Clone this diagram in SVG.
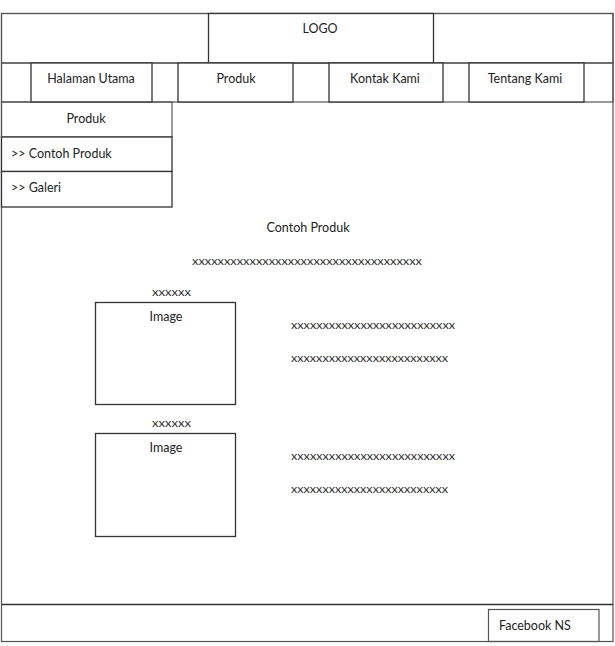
<svg xmlns="http://www.w3.org/2000/svg" width="615" height="646" viewBox="0 0 615 646">
<style>
.b{fill:#fff;stroke:#333;stroke-width:1.3}
.g{fill:none;stroke:#555;stroke-width:1.2}
text{font-family:Lato,"Liberation Sans",sans-serif;font-size:12.5px;fill:#222}
.x{font-size:11px;fill:#333}
.m{text-anchor:middle}
</style>
<rect x="0" y="0" width="615" height="646" fill="#fff"/>
<g id="page">
<rect class="g" x="1.5" y="13.5" width="611.5" height="628"/>
</g>
<g id="header">
<rect class="g" x="1.5" y="13.5" width="611.5" height="49.5"/>
<rect class="b" x="208.5" y="13.5" width="225" height="49.5"/>
<text class="m" x="320" y="32.5">LOGO</text>
</g>
<g id="nav">
<rect class="g" x="1.5" y="63" width="611.5" height="39"/>
<g id="nav-halaman"><rect class="b" x="31" y="63" width="121" height="39"/><text class="m" x="91" y="82.5">Halaman Utama</text></g>
<g id="nav-produk"><rect class="b" x="178" y="63" width="115" height="39"/><text class="m" x="236" y="82.5">Produk</text></g>
<g id="nav-kontak"><rect class="b" x="329" y="63" width="114" height="39"/><text class="m" x="385" y="82.5">Kontak Kami</text></g>
<g id="nav-tentang"><rect class="b" x="469" y="63" width="115" height="39"/><text class="m" x="525" y="82.5">Tentang Kami</text></g>
</g>
<g id="sidebar">
<rect class="g" x="1.5" y="102" width="170.5" height="35"/>
<text class="m" x="86" y="122.5">Produk</text>
<rect class="b" x="1.5" y="137" width="170.5" height="34.5"/>
<text x="11" y="157.5">&gt;&gt; Contoh Produk</text>
<rect class="b" x="1.5" y="171.5" width="170.5" height="35.5"/>
<text x="11" y="191.5">&gt;&gt; Galeri</text>
</g>
<g id="content">
<text class="m" x="308" y="231.5">Contoh Produk</text>
<text class="x" x="192" y="265" textLength="230" lengthAdjust="spacingAndGlyphs">xxxxxxxxxxxxxxxxxxxxxxxxxxxxxxxxxxxx</text>
</g>
<g id="product1">
<text class="x" x="152" y="296" textLength="39" lengthAdjust="spacingAndGlyphs">xxxxxx</text>
<rect class="b" x="95.5" y="302.5" width="140" height="102"/>
<text class="m" x="166" y="320.5">Image</text>
<text class="x" x="291" y="329" textLength="164" lengthAdjust="spacingAndGlyphs">xxxxxxxxxxxxxxxxxxxxxxxxxx</text>
<text class="x" x="291" y="362" textLength="157" lengthAdjust="spacingAndGlyphs">xxxxxxxxxxxxxxxxxxxxxxxxx</text>
</g>
<g id="product2">
<text class="x" x="152" y="427" textLength="39" lengthAdjust="spacingAndGlyphs">xxxxxx</text>
<rect class="b" x="95.5" y="433.5" width="140" height="103"/>
<text class="m" x="166" y="451.5">Image</text>
<text class="x" x="291" y="460" textLength="164" lengthAdjust="spacingAndGlyphs">xxxxxxxxxxxxxxxxxxxxxxxxxx</text>
<text class="x" x="291" y="493" textLength="157" lengthAdjust="spacingAndGlyphs">xxxxxxxxxxxxxxxxxxxxxxxxx</text>
</g>
<g id="footer">
<line class="b" x1="1.5" y1="604.5" x2="613" y2="604.5"/>
<rect class="g" x="488.5" y="609.5" width="110.5" height="32"/>
<text x="499" y="630">Facebook NS</text>
</g>
</svg>
